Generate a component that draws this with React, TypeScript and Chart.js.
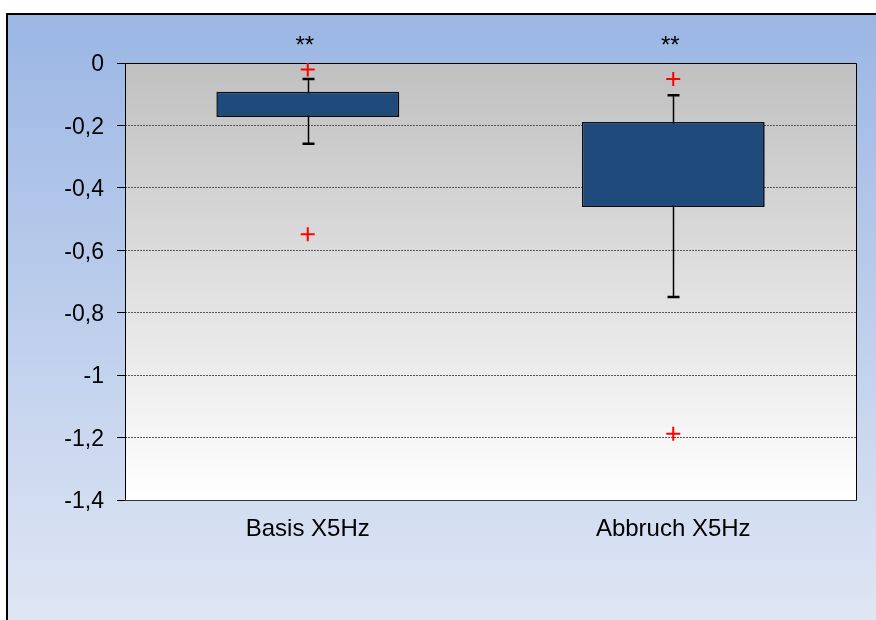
import React, { useEffect, useRef } from 'react';
import { Chart, registerables } from 'chart.js';

Chart.register(...registerables);

const categories = ['Basis X5Hz', 'Abbruch X5Hz'];
const q1 = [-0.173, -0.461];
const q3 = [-0.092, -0.189];
const whiskerHigh = [-0.051, -0.103];
const whiskerLow = [-0.259, -0.75];
const outlierHigh = [-0.021, -0.051];
const outlierLow = [-0.549, -1.188];
const significance = ['**', '**'];
const yMin = -1.4;
const yMax = 0;
const yStep = 0.2;

const FONT = "'Liberation Sans', Arial, sans-serif";

const bgPlugin = {
  id: 'bgPlugin',
  beforeDraw(chart: any) {
    const { ctx, width, height, chartArea } = chart;
    ctx.save();
    ctx.fillStyle = '#ffffff';
    ctx.fillRect(0, 0, width, height);
    const g = ctx.createLinearGradient(0, 14, 0, height);
    g.addColorStop(0, '#9bb6e4');
    g.addColorStop(1, '#dfe6f4');
    ctx.fillStyle = g;
    ctx.fillRect(7, 14, width, height);
    ctx.lineWidth = 2;
    ctx.strokeStyle = '#000000';
    ctx.strokeRect(7, 14, width + 40, height + 40);
    const { left, top, right, bottom } = chartArea;
    const pg = ctx.createLinearGradient(0, top, 0, bottom);
    pg.addColorStop(0, '#c0c0c0');
    pg.addColorStop(1, '#ffffff');
    ctx.fillStyle = pg;
    ctx.fillRect(left, top, right - left, bottom - top);
    ctx.restore();
  },
  beforeDatasetsDraw(chart: any) {
    const { ctx, chartArea, scales } = chart;
    const { left, top, right, bottom } = chartArea;
    ctx.save();
    ctx.strokeStyle = '#000000';
    ctx.lineWidth = 1;
    ctx.beginPath();
    ctx.moveTo(Math.round(left) + 0.5, Math.round(bottom) + 0.5);
    ctx.lineTo(Math.round(left) + 0.5, Math.round(top) + 0.5);
    ctx.lineTo(Math.round(right) + 0.5, Math.round(top) + 0.5);
    ctx.lineTo(Math.round(right) + 0.5, Math.round(bottom) + 0.5);
    ctx.stroke();
    ctx.strokeStyle = '#333333';
    ctx.beginPath();
    ctx.moveTo(Math.round(left) + 0.5, Math.round(bottom) + 0.5);
    ctx.lineTo(Math.round(right) + 0.5, Math.round(bottom) + 0.5);
    ctx.stroke();

    // whiskers
    const xs = scales.x;
    const ys = scales.y;
    categories.forEach((_c, i) => {
      const x = Math.round(xs.getPixelForValue(i)) + 0.5;
      const yHi = ys.getPixelForValue(whiskerHigh[i]);
      const yLo = ys.getPixelForValue(whiskerLow[i]);
      ctx.strokeStyle = '#000000';
      ctx.lineWidth = 1.5;
      ctx.beginPath();
      ctx.moveTo(x, yHi);
      ctx.lineTo(x, yLo);
      ctx.stroke();
      ctx.lineWidth = 2.5;
      ctx.beginPath();
      ctx.moveTo(x - 6, yHi);
      ctx.lineTo(x + 6, yHi);
      ctx.moveTo(x - 6, yLo);
      ctx.lineTo(x + 6, yLo);
      ctx.stroke();
    });
    ctx.restore();
  },
  beforeDatasetDraw(chart: any, args: any) {
    if (args.index === 0) {
      const ctx = chart.ctx;
      ctx.save();
      ctx.shadowColor = 'rgba(0,0,0,0.35)';
      ctx.shadowOffsetX = 2;
      ctx.shadowOffsetY = 2;
      ctx.shadowBlur = 2;
    }
  },
  afterDatasetDraw(chart: any, args: any) {
    if (args.index === 0) {
      chart.ctx.restore();
    }
  },
  afterDraw(chart: any) {
    const { ctx, scales } = chart;
    ctx.save();
    ctx.fillStyle = '#000000';
    ctx.font = `24px ${FONT}`;
    ctx.textAlign = 'center';
    ctx.textBaseline = 'alphabetic';
    significance.forEach((s, i) => {
      const x = scales.x.getPixelForValue(i) - 3;
      ctx.fillText(s, x, 53);
    });
    ctx.restore();
  },
};

export default function App() {
  const ref = useRef<HTMLCanvasElement | null>(null);

  useEffect(() => {
    if (!ref.current) return;
    const chart = new Chart(ref.current, {
      type: 'bar',
      data: {
        labels: categories,
        datasets: [
          {
            type: 'bar',
            label: 'Box',
            data: categories.map((_c, i) => [q1[i], q3[i]]) as any,
            backgroundColor: '#1f4a7c',
            borderColor: '#0a0f18',
            borderWidth: 1.5,
            borderSkipped: false,
            barPercentage: 0.5,
            categoryPercentage: 1,
          } as any,
          {
            type: 'line',
            label: 'Ausreißer oben',
            data: outlierHigh,
            showLine: false,
            pointStyle: 'cross',
            pointRadius: 7,
            pointBorderWidth: 2,
            pointBorderColor: '#ff0000',
            pointBackgroundColor: '#ff0000',
          } as any,
          {
            type: 'line',
            label: 'Ausreißer unten',
            data: outlierLow,
            showLine: false,
            pointStyle: 'cross',
            pointRadius: 7,
            pointBorderWidth: 2,
            pointBorderColor: '#ff0000',
            pointBackgroundColor: '#ff0000',
          } as any,
        ],
      },
      options: {
        responsive: false,
        animation: false,
        devicePixelRatio: 1,
        layout: { padding: { top: 63, right: 20, left: 0, bottom: 0 } },
        plugins: {
          legend: { display: false },
          tooltip: { enabled: false },
        },
        scales: {
          x: {
            offset: true,
            grid: { display: false, drawTicks: false, tickLength: 0 },
            border: { display: false },
            ticks: {
              color: '#000000',
              font: { family: FONT, size: 24 },
              padding: 15,
              maxRotation: 0,
            },
            afterFit(scale: any) {
              scale.height = 120;
            },
          },
          y: {
            min: yMin,
            max: yMax,
            grid: {
              color: '#555555',
              lineWidth: 1,
              drawTicks: true,
              tickLength: 8,
              tickColor: '#000000',
              tickBorderDash: [],
            },
            border: { display: false, dash: [2, 1] },
            ticks: {
              stepSize: yStep,
              color: '#000000',
              font: { family: FONT, size: 23 },
              padding: 13,
              labelOffset: 2,
              callback: (v: any) => String(Number(Number(v).toFixed(1))).replace('.', ','),
            },
            afterFit(scale: any) {
              scale.width = 125;
            },
          },
        },
      } as any,
      plugins: [bgPlugin],
    });
    return () => chart.destroy();
  }, []);

  return (
    <div style={{ position: 'fixed', left: 0, top: 0, width: 876, height: 620, background: '#fff' }}>
      <canvas ref={ref} width={876} height={620} style={{ display: 'block', width: 876, height: 620 }} />
    </div>
  );
}
